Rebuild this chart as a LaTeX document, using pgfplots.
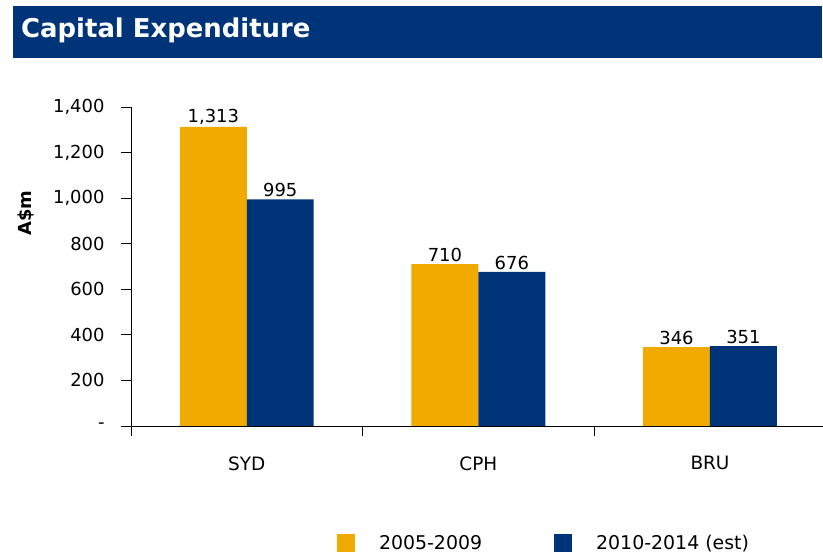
\documentclass[border=0pt]{standalone}
\usepackage{fontspec}
\setmainfont{DejaVu Sans}
\usepackage{pgfplots}
\pgfplotsset{compat=1.18}
\definecolor{capOrange}{RGB}{240,170,0}
\definecolor{capBlue}{RGB}{0,52,120}
\begin{document}
\begin{tikzpicture}
\useasboundingbox (0,0) rectangle (823bp,553bp);
\fill[capBlue] (13bp,494.5bp) rectangle (822bp,547bp);
\node[anchor=base west, inner sep=0pt, text=white, font=\bfseries\fontsize{26}{30}\selectfont] at (21bp,515.5bp) {Capital Expenditure};
\begin{axis}[
  at={(131bp,127bp)}, anchor=south west,
  scale only axis, width=692bp, height=319bp,
  xmin=-0.5, xmax=2.488, ymin=0, ymax=1400,
  axis x line=bottom, axis y line=left,
  axis line style={-, black, line width=0.8pt},
  every tick/.style={black, line width=0.8pt},
  ybar=0pt, bar width=0.289,
  legend image code/.code={\fill[#1] (0bp,-9bp) rectangle (18bp,9bp); \path[draw=none,fill=none] (18bp,0) -- (40bp,0);},
  xtick={-0.5,0.5,1.5}, xticklabels={,,},
  extra x ticks={0,1,2}, extra x tick labels={SYD,CPH,BRU},
  extra x tick style={major tick length=0pt, tick label style={yshift=-27bp}},
  ytick={0,200,...,1400}, yticklabels={-,200,400,600,800,{1,000},{1,200},{1,400}},
  tick align=outside, major tick length=10bp,
  xticklabel style={font=\fontsize{18.5}{21}\selectfont},
  yticklabel style={font=\fontsize{18}{21}\selectfont, xshift=-13bp},
  /pgf/number format/1000 sep={,},
  /pgf/number format/assume math mode=true,
  nodes near coords,
  nodes near coords style={font=\fontsize{18}{21}\selectfont, text=black, inner sep=2pt},
  legend columns=2,
  legend style={at={(rel axis cs:0.2977,-0.3668)}, anchor=west, draw=none, inner sep=0pt, outer sep=0pt,
    font=\fontsize{19}{22}\selectfont,
    /tikz/every even column/.append style={column sep=70bp}},
  legend cell align=left,
]
\addplot[fill=capOrange, draw=none] coordinates {(0,1313) (1,710) (2,346)};
\addplot[fill=capBlue, draw=none] coordinates {(0,995) (1,676) (2,351)};
\legend{2005-2009,2010-2014 (est)}
\end{axis}
\node[rotate=90, font=\bfseries\fontsize{18}{21}\selectfont, inner sep=0pt] at (26bp,340bp) {A\$m};
\end{tikzpicture}
\end{document}
